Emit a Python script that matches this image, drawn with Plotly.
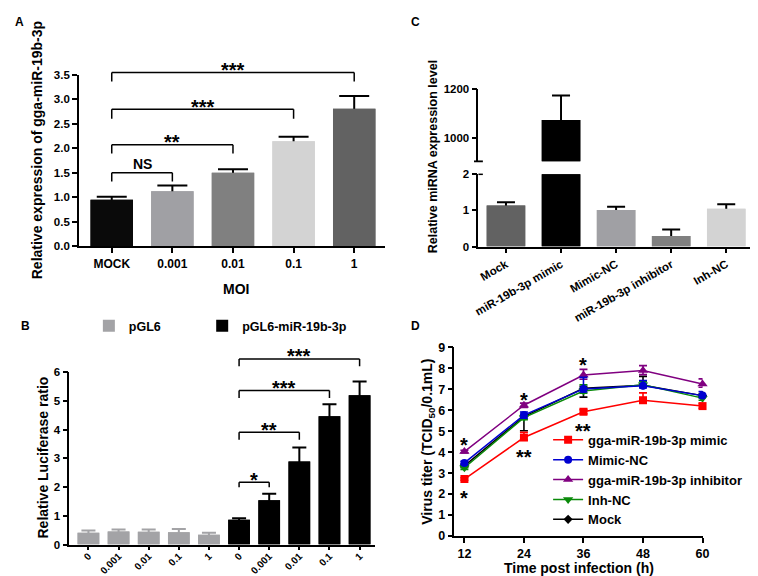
import plotly.graph_objects as go

FONT = "Liberation Sans, Arial, Helvetica, sans-serif"
W, H = 758, 576

# ---------------- data ----------------
# Panel A
a_cats = ["MOCK", "0.001", "0.01", "0.1", "1"]
a_vals = [0.95, 1.12, 1.50, 2.14, 2.80]
a_err = [0.06, 0.12, 0.07, 0.09, 0.26]
a_colors = ["#0a0a0a", "#a0a0a4", "#808080", "#d3d3d3", "#626262"]
a_brackets = [(0, 1, 1.50, 1.32, "NS"), (0, 2, 2.07, 1.89, "**"),
              (0, 3, 2.79, 2.60, "***"), (0, 4, 3.54, 3.36, "***")]

# Panel B
b_moi = ["0", "0.001", "0.01", "0.1", "1"]
b_pgl6 = [0.41, 0.45, 0.44, 0.43, 0.34]
b_pgl6_err = [0.08, 0.07, 0.08, 0.11, 0.07]
b_mir = [0.86, 1.54, 2.89, 4.46, 5.19]
b_mir_err = [0.05, 0.23, 0.49, 0.42, 0.48]
b_brackets = [(5, 6, 2.17, 1.99, "*"), (5, 7, 3.91, 3.65, "**"),
              (5, 8, 5.36, 5.10, "***"), (5, 9, 6.46, 6.20, "***")]

# Panel C
c_cats = ["Mock", "miR-19b-3p mimic", "Mimic-NC", "miR-19b-3p inhibitor", "Inh-NC"]
c_vals = [1.14, 1073, 1.01, 0.29, 1.05]
c_err = [0.09, 100, 0.09, 0.18, 0.12]
c_colors = ["#626262", "#000000", "#a0a0a4", "#808080", "#d3d3d3"]

# Panel D
d_hours = [12, 24, 36, 48, 60]
d_mimic = [2.72, 4.70, 5.93, 6.48, 6.20]
d_mimic_up = [0.06, 0.25, 0.10, 0.35, 0.12]
d_mimic_dn = [0.06, 0.12, 0.10, 0.10, 0.10]
d_mimicnc = [3.49, 5.77, 7.02, 7.17, 6.70]
d_mimicnc_up = [0.08, 0.15, 0.55, 0.25, 0.20]
d_mimicnc_dn = [0.08, 0.15, 0.15, 0.10, 0.10]
d_inhib = [4.03, 6.24, 7.68, 7.90, 7.25]
d_inhib_up = [0.06, 0.10, 0.27, 0.23, 0.25]
d_inhib_dn = [0.06, 0.10, 0.20, 0.20, 0.15]
d_inhnc = [3.26, 5.65, 6.92, 7.22, 6.58]
d_inhnc_up = [0.08, 0.10, 0.30, 0.15, 0.10]
d_inhnc_dn = [0.08, 0.10, 0.10, 0.10, 0.10]
d_mock = [3.35, 5.70, 7.05, 7.20, 6.70]
d_mock_up = [0.08, 0.10, 0.10, 0.42, 0.10]
d_mock_dn = [0.08, 0.68, 0.42, 0.10, 0.10]
d_stars = [(12, 4.56, "*"), (12, 2.02, "*"), (24, 6.70, "*"), (24, 3.96, "**"),
           (36, 8.36, "*"), (36, 5.21, "**")]


# ---------------- geometry helpers ----------------
def pxx(p):
    return p / W


def pxy(p):
    return 1 - p / H


def yp(v, dom, rng):
    return dom[0] + (v - rng[0]) / (rng[1] - rng[0]) * (dom[1] - dom[0])


def ppu(dom, rng):
    return (dom[1] - dom[0]) * H / (rng[1] - rng[0])


A_X, A_Y, A_XR, A_YR = [pxx(68), pxx(378)], [pxy(237), pxy(61)], [-0.54, 4.5], [0, 3.5]
B_X, B_Y, B_XR, B_YR = [pxx(58.3), pxx(368)], [pxy(542.7), pxy(366)], [-0.63, 9.5], [0, 6]
C_X, C_XR = [pxx(473.3), pxx(752.7)], [-0.5, 4.5]
C_YL, C_YLR = [pxy(237.3), pxy(163.3)], [0, 2]
C_YU, C_YUR = [pxy(150), pxy(75.7)], [905, 1200]
D_X, D_Y, D_XR, D_YR = [pxx(449), pxx(700.7)], [pxy(534), pxy(340.7)], [10, 60], [0, 9]

fig = go.Figure()


def add_bars(x, y, err, colors, ecolor, xa, ya, width, cap, dom, rng,
             name=None, showlegend=False, legend="legend"):
    m = 2.5 / ppu(dom, rng)
    fig.add_trace(go.Bar(
        x=x, y=y, width=width, xaxis=xa, yaxis=ya, showlegend=False, opacity=1,
        marker=dict(color=colors, line=dict(width=0)), hoverinfo="skip",
        error_y=dict(type="data", symmetric=False, array=err,
                     arrayminus=[m] * len(y), color=ecolor, thickness=2, width=cap)))
    fig.add_trace(go.Bar(
        x=x, y=y, width=width, xaxis=xa, yaxis=ya, showlegend=showlegend,
        name=name, legend=legend, opacity=1,
        marker=dict(color=colors, line=dict(width=0)), hoverinfo="skip"))


# Panel A bars
add_bars(a_cats, a_vals, a_err, a_colors, "black", "x", "y", 0.7, 15, A_Y, A_YR)

# Panel B bars
b_x_pgl6 = [i for i in range(len(b_moi))]
b_x_mir = [i + len(b_moi) for i in range(len(b_moi))]
add_bars(b_x_pgl6, b_pgl6, b_pgl6_err, "#a3a3a6", "#a3a3a6", "x2", "y2", 0.72, 7,
         B_Y, B_YR, name="pGL6", showlegend=True, legend="legend")
add_bars(b_x_mir, b_mir, b_mir_err, "#000000", "#000000", "x2", "y2", 0.72, 7,
         B_Y, B_YR, name="pGL6-miR-19b-3p", showlegend=True, legend="legend3")

# Panel C bars (lower and upper segment of broken axis)
add_bars(c_cats, c_vals, c_err, c_colors, "black", "x3", "y3", 0.7, 9, C_YL, C_YLR)
add_bars(c_cats, c_vals, c_err, c_colors, "black", "x4", "y4", 0.7, 9, C_YU, C_YUR)

# Panel D lines
d_specs = [
    ("Mock", d_mock, d_mock_up, d_mock_dn, "#000000", "diamond", 7, 5),
    ("Inh-NC", d_inhnc, d_inhnc_up, d_inhnc_dn, "#0a8a0a", "triangle-down", 9, 4),
    ("gga-miR-19b-3p inhibitor", d_inhib, d_inhib_up, d_inhib_dn, "#800080", "triangle-up", 9, 3),
    ("gga-miR-19b-3p mimic", d_mimic, d_mimic_up, d_mimic_dn, "#ff0000", "square", 8, 1),
    ("Mimic-NC", d_mimicnc, d_mimicnc_up, d_mimicnc_dn, "#0000d0", "circle", 8, 2),
]
for name, vals, up, dn, col, sym, size, rank in d_specs:
    fig.add_trace(go.Scatter(
        x=d_hours, y=vals, mode="lines+markers", name=name, legend="legend2",
        legendrank=rank, xaxis="x5", yaxis="y5", cliponaxis=False,
        line=dict(color=col, width=1.5),
        marker=dict(symbol=sym, size=size, color=col),
        error_y=dict(type="data", symmetric=False, array=up, arrayminus=dn,
                     color=col, thickness=1.6, width=4),
        hoverinfo="skip"))

shapes = []
annotations = []


def line(xref, yref, x0, y0, x1, y1, w=1.5):
    shapes.append(dict(type="line", xref=xref, yref=yref, x0=x0, y0=y0, x1=x1, y1=y1,
                       line=dict(color="black", width=w)))


def bracket(xa, dom, rng, x0, x1, ytop, ybot, label):
    yt, yb = yp(ytop, dom, rng), yp(ybot, dom, rng)
    line(xa, "paper", x0, yb, x0, yt)
    line(xa, "paper", x0, yt, x1, yt)
    line(xa, "paper", x1, yt, x1, yb)
    if label == "NS":
        annotations.append(dict(x=(x0 + x1) / 2, xref=xa, y=yt, yref="paper",
                                text="<b>NS</b>", showarrow=False, yanchor="bottom",
                                yshift=-1.5, font=dict(size=14, family=FONT, color="black")))
    else:
        annotations.append(dict(x=(x0 + x1) / 2, xref=xa, y=yt, yref="paper",
                                text="<b>" + label + "</b>", showarrow=False,
                                yanchor="bottom", yshift=-10.5,
                                font=dict(size=20, family=FONT, color="black")))


for b in a_brackets:
    bracket("x", A_Y, A_YR, *b)
for b in b_brackets:
    bracket("x2", B_Y, B_YR, *b)

for hx, yv, s in d_stars:
    annotations.append(dict(x=hx, xref="x5", y=yp(yv, D_Y, D_YR), yref="paper",
                            text="<b>" + s + "</b>", showarrow=False, yanchor="middle",
                            yshift=-4.4, font=dict(size=20, family=FONT, color="black")))

# broken-axis marks on panel C
yb_up = yp(C_YUR[0], C_YU, C_YUR)
line("paper", "paper", C_X[0] - pxx(4.5), yb_up, C_X[0] + pxx(4.5), yb_up, 1.8)
yt_lo = yp(C_YLR[1], C_YL, C_YLR)
line("paper", "paper", C_X[0], yt_lo, C_X[0] + pxx(4.5), yt_lo, 1.5)


def label(text, x, y, size, angle=0):
    annotations.append(dict(x=pxx(x), y=pxy(y), xref="paper", yref="paper",
                            text="<b>" + text + "</b>", showarrow=False,
                            xanchor="center", yanchor="middle", textangle=angle,
                            font=dict(size=size, family=FONT, color="black")))


label("A", 8, 7, 12)
label("B", 14, 319, 12)
label("C", 409, 7, 12)
label("D", 409, 319, 12)
label("Relative expression of gga-miR-19b-3p", 25, 139, 14, -90)
label("MOI", 227, 280.5, 14)
label("Relative Luciferase ratio", 31, 454, 14, -90)
label("Relative miRNA expression level", 428, 145, 12.5, -90)
label("Virus titer (TCID<sub>50</sub>/0.1mL)", 422, 437.5, 14, -90)
label("Time post infection (h)", 575, 566.7, 14)


def axis(**kw):
    base = dict(showline=True, linecolor="black", linewidth=1.8, ticks="outside",
                ticklen=5, tickwidth=1.5, tickcolor="black", showgrid=False,
                zeroline=False, fixedrange=True,
                tickfont=dict(family=FONT, size=11.5, color="black", weight="bold"))
    base.update(kw)
    return base


tf = lambda s: dict(family=FONT, size=s, color="black", weight="bold")

fig.update_layout(
    width=W, height=H, margin=dict(l=0, r=0, t=0, b=0),
    paper_bgcolor="white", plot_bgcolor="white", barmode="overlay",
    hovermode=False, showlegend=True,
    font=dict(family=FONT, color="black", size=12, weight="bold"),
    xaxis=axis(domain=A_X, anchor="y", type="category", range=A_XR, tickfont=tf(12)),
    yaxis=axis(domain=A_Y, anchor="x", range=A_YR, dtick=0.5, tickformat=".1f"),
    xaxis2=axis(domain=B_X, anchor="y2", range=B_XR,
                tickvals=b_x_pgl6 + b_x_mir, ticktext=b_moi + b_moi,
                tickangle=-45, tickfont=tf(10), ticklen=4, ticklabelstandoff=-4),
    yaxis2=axis(domain=B_Y, anchor="x2", range=B_YR, dtick=1),
    xaxis3=axis(domain=C_X, anchor="y3", type="category", range=C_XR,
                tickangle=-30, tickfont=tf(11.5)),
    yaxis3=axis(domain=C_YL, anchor="x3", range=C_YLR, dtick=1),
    xaxis4=dict(domain=C_X, anchor="y4", type="category", range=C_XR, visible=False,
                fixedrange=True),
    yaxis4=axis(domain=C_YU, anchor="x4", range=C_YUR, tickvals=[1000, 1200]),
    xaxis5=axis(domain=D_X, anchor="y5", range=D_XR, tickvals=d_hours, tickfont=tf(12.5)),
    yaxis5=axis(domain=D_Y, anchor="x5", range=D_YR, dtick=1, tickfont=tf(12.5)),
    legend=dict(orientation="h", x=pxx(78), y=pxy(319), xanchor="left", yanchor="middle",
                font=tf(12.5), bgcolor="rgba(0,0,0,0)"),
    legend3=dict(orientation="h", x=pxx(193), y=pxy(319), xanchor="left", yanchor="middle",
                 font=tf(12.5), bgcolor="rgba(0,0,0,0)"),
    legend2=dict(x=pxx(544), y=pxy(420), xanchor="left", yanchor="top",
                 font=tf(13), bgcolor="rgba(0,0,0,0)", tracegroupgap=0),
    shapes=shapes, annotations=annotations,
)

fig.write_html("out.html")
